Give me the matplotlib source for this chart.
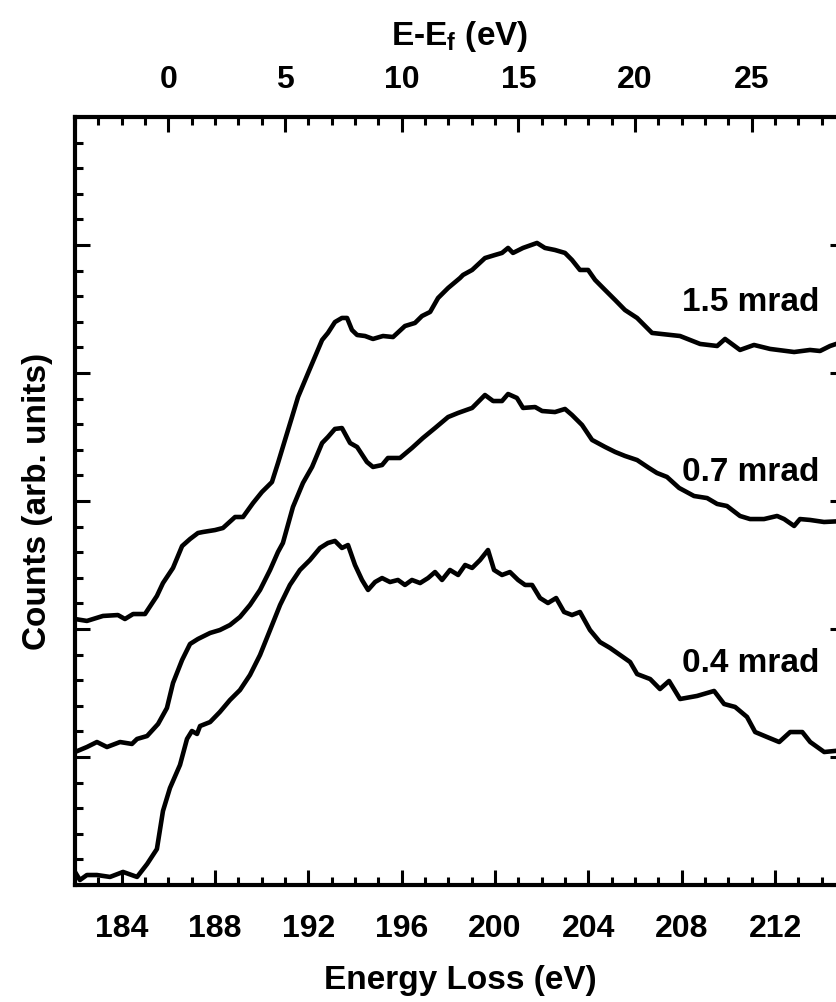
import matplotlib
matplotlib.use("Agg")
from matplotlib import pyplot as plt
from matplotlib.ticker import MultipleLocator, NullFormatter

plt.rcParams['font.family'] = ['Liberation Sans', 'DejaVu Sans']
plt.rcParams['font.weight'] = 'bold'
plt.rcParams['mathtext.fontset'] = 'custom'
plt.rcParams['mathtext.rm'] = 'Liberation Sans:bold'
plt.rcParams['mathtext.bf'] = 'Liberation Sans:bold'

# energy loss (eV) and counts (arb. units)
e_15 = [182.00, 182.51, 183.20, 183.84, 184.14, 184.49, 185.00, 185.51, 185.77, 186.20,
        186.59, 186.93, 187.27, 187.49, 188.00, 188.34, 188.86, 189.20, 189.63, 190.01,
        190.44, 190.70, 191.00, 191.30, 191.56, 191.99, 192.59, 192.84, 193.14, 193.44,
        193.66, 193.87, 194.09, 194.43, 194.77, 195.20, 195.63, 196.14, 196.57, 196.87,
        197.22, 197.56, 197.99, 198.50, 198.63, 199.02, 199.57, 200.00, 200.30, 200.56,
        200.77, 201.20, 201.80, 202.14, 202.57, 203.00, 203.30, 203.64, 203.99, 204.29,
        204.72, 205.15, 205.57, 206.09, 206.73, 207.93, 208.79, 209.52, 209.86, 210.50,
        211.10, 211.79, 212.82, 213.50, 213.93, 214.36, 215.00]
c_15 = [2.078, 2.063, 2.102, 2.109, 2.078, 2.117, 2.117, 2.258, 2.359, 2.477,
        2.648, 2.703, 2.750, 2.758, 2.773, 2.789, 2.875, 2.875, 2.984, 3.070,
        3.148, 3.297, 3.477, 3.656, 3.813, 4.000, 4.258, 4.313, 4.398, 4.430,
        4.430, 4.336, 4.297, 4.289, 4.266, 4.289, 4.281, 4.367, 4.391, 4.445,
        4.477, 4.586, 4.664, 4.742, 4.766, 4.805, 4.898, 4.922, 4.938, 4.977,
        4.938, 4.977, 5.016, 4.977, 4.961, 4.938, 4.883, 4.805, 4.805, 4.727,
        4.648, 4.570, 4.492, 4.430, 4.313, 4.289, 4.227, 4.211, 4.266, 4.180,
        4.219, 4.188, 4.164, 4.180, 4.172, 4.211, 4.250]

e_07 = [182.00, 182.51, 182.94, 183.37, 183.93, 184.44, 184.66, 185.09, 185.56, 185.94,
        186.20, 186.59, 186.93, 187.27, 187.79, 188.21, 188.64, 189.07, 189.50, 189.93,
        190.36, 190.70, 190.91, 191.34, 191.77, 192.16, 192.59, 192.84, 193.14, 193.44,
        193.79, 194.09, 194.51, 194.77, 195.16, 195.41, 195.93, 196.44, 196.91, 197.43,
        197.99, 198.42, 199.02, 199.57, 199.92, 200.30, 200.56, 200.94, 201.20, 201.72,
        202.02, 202.57, 203.00, 203.30, 203.73, 204.16, 204.72, 205.15, 205.57, 206.09,
        206.60, 206.94, 207.37, 207.89, 208.53, 209.09, 209.52, 209.94, 210.50, 210.93,
        211.53, 212.09, 212.39, 212.82, 213.07, 213.50, 214.10, 215.00]
c_07 = [1.039, 1.078, 1.117, 1.078, 1.117, 1.102, 1.141, 1.164, 1.258, 1.383,
        1.578, 1.758, 1.883, 1.922, 1.969, 1.992, 2.031, 2.094, 2.188, 2.305,
        2.461, 2.602, 2.672, 2.953, 3.141, 3.266, 3.453, 3.500, 3.563, 3.570,
        3.453, 3.422, 3.305, 3.266, 3.281, 3.336, 3.336, 3.414, 3.492, 3.570,
        3.656, 3.688, 3.727, 3.828, 3.781, 3.781, 3.836, 3.805, 3.727, 3.734,
        3.703, 3.695, 3.719, 3.672, 3.594, 3.477, 3.422, 3.383, 3.352, 3.320,
        3.258, 3.219, 3.188, 3.102, 3.039, 3.023, 2.977, 2.961, 2.883, 2.859,
        2.859, 2.883, 2.859, 2.805, 2.859, 2.852, 2.836, 2.844]

e_04 = [182.00, 182.21, 182.51, 182.94, 183.50, 184.06, 184.66, 185.09, 185.51, 185.77,
        186.07, 186.50, 186.80, 187.01, 187.23, 187.36, 187.79, 188.21, 188.64, 189.07,
        189.50, 189.93, 190.36, 190.79, 191.21, 191.64, 192.07, 192.50, 192.84, 193.14,
        193.44, 193.70, 194.00, 194.30, 194.56, 194.86, 195.16, 195.50, 195.84, 196.14,
        196.44, 196.79, 197.13, 197.43, 197.73, 198.07, 198.42, 198.72, 199.02, 199.36,
        199.70, 199.96, 200.30, 200.64, 200.99, 201.29, 201.59, 201.93, 202.27, 202.62,
        202.96, 203.30, 203.64, 204.07, 204.50, 204.93, 205.36, 205.79, 206.09, 206.65,
        207.07, 207.46, 207.93, 208.66, 209.39, 209.82, 210.29, 210.80, 211.15, 211.66,
        212.18, 212.65, 213.17, 213.51, 214.11, 215.00]
c_04 = [0.102, 0.039, 0.078, 0.078, 0.063, 0.102, 0.063, 0.164, 0.281, 0.578,
        0.758, 0.938, 1.141, 1.203, 1.180, 1.242, 1.273, 1.352, 1.445, 1.523,
        1.641, 1.797, 1.992, 2.188, 2.344, 2.461, 2.539, 2.633, 2.672, 2.688,
        2.633, 2.656, 2.500, 2.383, 2.305, 2.367, 2.398, 2.367, 2.383, 2.344,
        2.383, 2.359, 2.398, 2.445, 2.383, 2.461, 2.422, 2.500, 2.477, 2.539,
        2.617, 2.461, 2.422, 2.445, 2.383, 2.344, 2.344, 2.242, 2.203, 2.242,
        2.133, 2.109, 2.133, 1.992, 1.898, 1.852, 1.797, 1.742, 1.648, 1.609,
        1.531, 1.594, 1.453, 1.477, 1.516, 1.414, 1.391, 1.313, 1.195, 1.156,
        1.117, 1.195, 1.195, 1.117, 1.039, 1.055]

labels = ['1.5 mrad', '0.7 mrad', '0.4 mrad']
label_y = [4.55, 3.22, 1.73]
e_fermi = 186.0

fig = plt.figure(figsize=(8.37, 10.02), dpi=100)
ax = fig.add_axes([75 / 837, 117 / 1002, 770 / 837, 768 / 1002])

for e, c in [(e_15, c_15), (e_07, c_07), (e_04, c_04)]:
    ax.plot(e, c, color='black', lw=3.3, solid_joinstyle='round')

for s, y in zip(labels, label_y):
    ax.text(213.9, y, s, ha='right', va='center', fontsize=24, fontweight='bold')

ax.set_xlim(182, 215)
ax.set_ylim(0, 6)
ax.xaxis.set_major_locator(MultipleLocator(4))
ax.xaxis.set_minor_locator(MultipleLocator(1))
ax.yaxis.set_major_locator(MultipleLocator(1))
ax.yaxis.set_minor_locator(MultipleLocator(0.2))
ax.yaxis.set_major_formatter(NullFormatter())
ax.tick_params(which='both', direction='in', width=2.2, right=True, top=False,
               labelsize=23)
ax.tick_params(axis='x', which='both', pad=21)
ax.tick_params(axis='y', which='both', pad=2)
ax.tick_params(which='major', length=11)
ax.tick_params(which='minor', length=6)
for sp in ax.spines.values():
    sp.set_linewidth(3)

ax.set_xlabel('Energy Loss (eV)', fontsize=24, fontweight='bold', labelpad=15)
ax.set_ylabel('Counts (arb. units)', fontsize=24, fontweight='bold', labelpad=14)

ax2 = ax.twiny()
ax2.set_xlim(182 - e_fermi, 215 - e_fermi)
ax2.xaxis.set_major_locator(MultipleLocator(5))
ax2.xaxis.set_minor_locator(MultipleLocator(1))
ax2.tick_params(which='both', direction='in', width=2.2, labelsize=23, pad=16)
ax2.tick_params(which='major', length=11)
ax2.tick_params(which='minor', length=6)
ax2.set_xlabel('E-E$_\\mathrm{f}$ (eV)', fontsize=24, fontweight='bold', labelpad=14)

fig.savefig('out.png', dpi=100)
